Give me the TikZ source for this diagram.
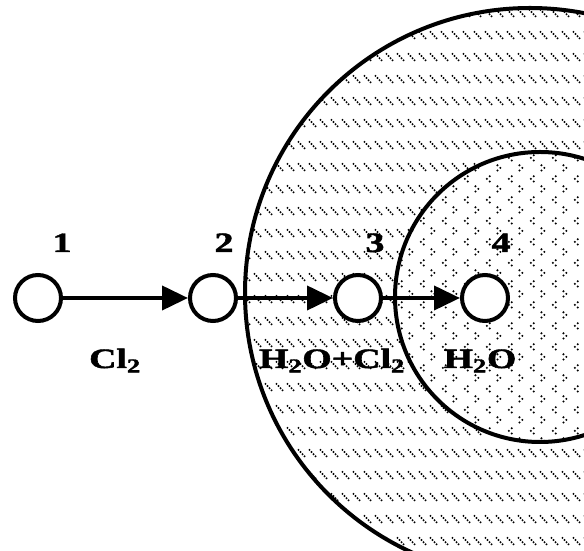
\documentclass[tikz,border=0pt]{standalone}
\usepackage{fontspec}
\setmainfont{Liberation Serif}
\newfontfamily\heavyfont{Liberation Serif Bold}[FakeBold=1.6]
\usepackage{graphicx}
\usepackage{tikz}
\usetikzlibrary{arrows.meta,positioning,patterns.meta}

\newcommand{\widetext}[1]{\scalebox{1.35}[1]{#1}}

\tikzdeclarepattern{
    name=ringhatch,
    type=uncolored,
    bounding box={(0pt,0pt) and (11pt,21.5pt)},
    tile size={(11pt,21.5pt)},
    code={
        \fill (1.6pt,13.4pt) circle (1.15pt);
        \fill (3.8pt,11.2pt) circle (1.15pt);
        \fill (6pt,9pt) circle (1.15pt);
        \fill (8.2pt,6.8pt) circle (1.15pt);
    }
}
\tikzdeclarepattern{
    name=coredots,
    type=uncolored,
    bounding box={(0pt,0pt) and (22pt,21pt)},
    tile size={(22pt,21pt)},
    code={
        % "<" mark
        \fill (6pt,18.5pt) circle (1.2pt);
        \fill (3pt,15.8pt) circle (1.2pt);
        \fill (6pt,13.1pt) circle (1.2pt);
        % ">" mark
        \fill (14pt,8pt) circle (1.2pt);
        \fill (17pt,5.3pt) circle (1.2pt);
        \fill (14pt,2.6pt) circle (1.2pt);
    }
}

\begin{document}
\begin{tikzpicture}[x=1pt,y=1pt,>={Triangle[length=26pt,width=24pt]},
    font=\heavyfont\fontsize{28}{30}\selectfont]
    \tikzset{
        zone/.style={line width=4pt,pattern color=black},
        site/.style={draw,circle,line width=4pt,fill=white,minimum size=46pt,inner sep=0pt},
        flow/.style={->,line width=4pt},
        num/.style={inner sep=0pt,anchor=base},
        feed/.style={inner sep=0pt,anchor=base}
    }
    \useasboundingbox (0,0) rectangle (584,551);
    \clip (0,0) rectangle (584,551);
    % Zones
    \fill[white] (530,258) circle (285);
    \draw[zone,pattern=ringhatch] (530,258) circle (285);
    \fill[white] (540,254) circle (145);
    \draw[zone,pattern=coredots] (540,254) circle (145);
    % Sites
    \node[site] (s1) at (38,253) {};
    \node[site] (s2) at (213,253) {};
    \node[site] (s3) at (358,253) {};
    \node[site] (s4) at (485,253) {};
    % Numbers
    \node[num] (n1) at (62,299) {\widetext{1}};
    \node[num] (n2) at (224,299) {\widetext{2}};
    \node[num] (n3) at (375,299) {\widetext{3}};
    \node[num] (n4) at (501,299) {\widetext{4}};
    % Flows
    \draw[flow] (s1) -- (s2);
    \draw[flow] (s2) -- (s3);
    \draw[flow] (s3) -- (s4);
    % Feeds
    \node[feed] (f1) at (115,183) {\widetext{Cl\textsubscript{2}}};
    \node[feed] (f2) at (332,183) {\widetext{H\textsubscript{2}O+Cl\textsubscript{2}}};
    \node[feed] (f3) at (480,183) {\widetext{H\textsubscript{2}O}};
\end{tikzpicture}
\end{document}
